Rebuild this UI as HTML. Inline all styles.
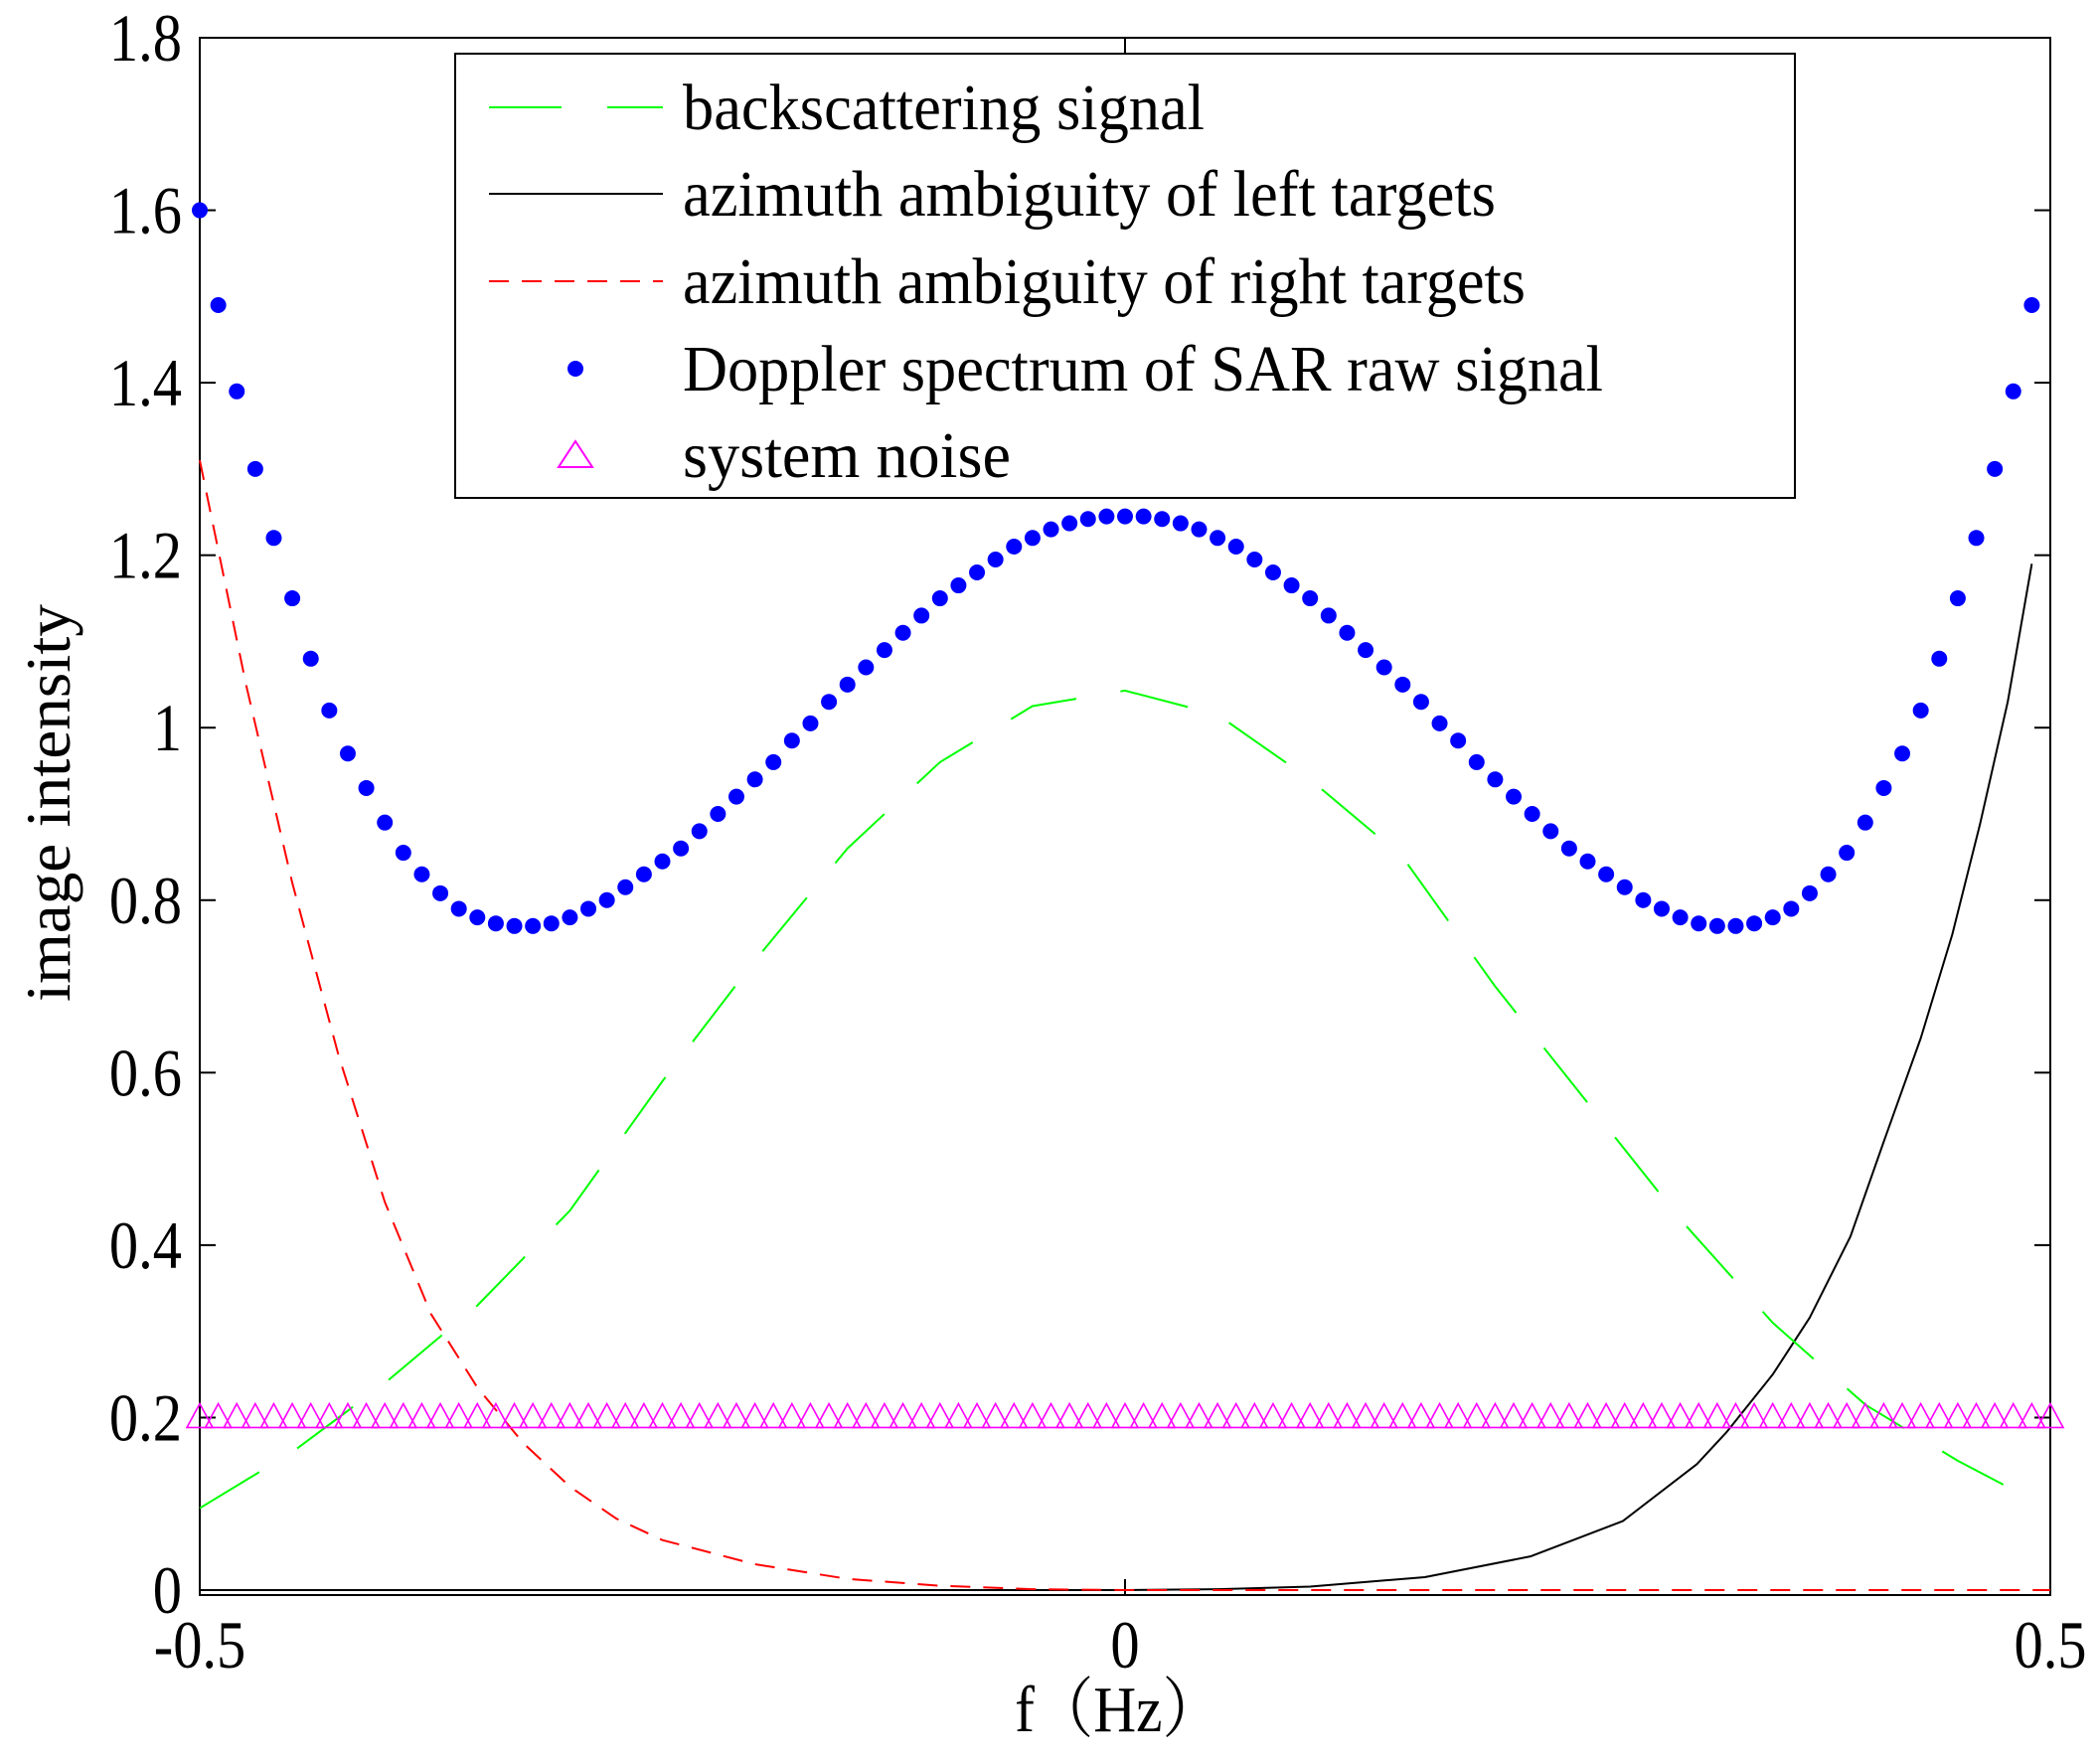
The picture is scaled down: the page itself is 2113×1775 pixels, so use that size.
<!DOCTYPE html>
<html><head><meta charset="utf-8"><style>body{margin:0;background:#fff}svg{display:block}text{font-family:"Liberation Serif",serif;fill:#000}</style></head>
<body>
<svg id="chart" width="2113" height="1775" viewBox="0 0 2113 1775">
<g id="plot"></g>
</svg>
<script>
const fDots=[-0.5,-0.49,-0.48,-0.47,-0.46,-0.45,-0.44,-0.43,-0.42,-0.41,-0.4,-0.39,-0.38,-0.37,-0.36,-0.35,-0.34,-0.33,-0.32,-0.31,-0.3,-0.29,-0.28,-0.27,-0.26,-0.25,-0.24,-0.23,-0.22,-0.21,-0.2,-0.19,-0.18,-0.17,-0.16,-0.15,-0.14,-0.13,-0.12,-0.11,-0.1,-0.09,-0.08,-0.07,-0.06,-0.05,-0.04,-0.03,-0.02,-0.01,0,0.01,0.02,0.03,0.04,0.05,0.06,0.07,0.08,0.09,0.1,0.11,0.12,0.13,0.14,0.15,0.16,0.17,0.18,0.19,0.2,0.21,0.22,0.23,0.24,0.25,0.26,0.27,0.28,0.29,0.3,0.31,0.32,0.33,0.34,0.35,0.36,0.37,0.38,0.39,0.4,0.41,0.42,0.43,0.44,0.45,0.46,0.47,0.48,0.49];
const dopplerVals=[1.60,1.49,1.39,1.30,1.22,1.15,1.08,1.02,0.97,0.93,0.89,0.855,0.83,0.808,0.79,0.78,0.773,0.77,0.77,0.773,0.78,0.79,0.80,0.815,0.83,0.845,0.86,0.88,0.90,0.92,0.94,0.96,0.985,1.005,1.03,1.05,1.07,1.09,1.11,1.13,1.15,1.165,1.18,1.195,1.21,1.22,1.23,1.237,1.242,1.245,1.245,1.245,1.242,1.237,1.23,1.22,1.21,1.195,1.18,1.165,1.15,1.13,1.11,1.09,1.07,1.05,1.03,1.005,0.985,0.96,0.94,0.92,0.90,0.88,0.86,0.845,0.83,0.815,0.80,0.79,0.78,0.773,0.77,0.77,0.773,0.78,0.79,0.808,0.83,0.855,0.89,0.93,0.97,1.02,1.08,1.15,1.22,1.30,1.39,1.49];
const fGreen=[-0.5,-0.45,-0.4,-0.35,-0.3,-0.25,-0.2,-0.15,-0.1,-0.05,0,0.05,0.1,0.15,0.2,0.25,0.3,0.35,0.4,0.45,0.49];
const greenVals=[0.095,0.16,0.24,0.33,0.44,0.59,0.73,0.86,0.96,1.025,1.043,1.015,0.94,0.85,0.70,0.565,0.43,0.31,0.215,0.15,0.105];
const fRed=[-0.5,-0.475,-0.45,-0.425,-0.4,-0.375,-0.35,-0.325,-0.3,-0.275,-0.25,-0.2,-0.15,-0.1,-0.05,0,0.5];
const redVals=[1.31,1.05,0.82,0.62,0.45,0.32,0.235,0.17,0.12,0.083,0.058,0.03,0.013,0.005,0.001,0,0];
const fBlack=[-0.5,0,0.05,0.1,0.162,0.219,0.269,0.309,0.325,0.35,0.37,0.392,0.41,0.43,0.447,0.462,0.477,0.49];
const blackVals=[0,0,0.001,0.004,0.015,0.039,0.08,0.146,0.183,0.25,0.316,0.41,0.52,0.64,0.76,0.888,1.03,1.19];
const noiseLevel=0.2;
const xTicks=[-0.5,0,0.5];
const yTicks=[0,0.2,0.4,0.6,0.8,1,1.2,1.4,1.6,1.8];

const NS="http://www.w3.org/2000/svg";
const X0=201,X1=2063,YT=38,YB=1605;
const xs=f=>X0+(f+0.5)*(X1-X0);
const ys=v=>1600-v*(1600-YT)/1.8;
const g=document.getElementById('plot');
function mk(tag,at,parent){const e=document.createElementNS(NS,tag);for(const k in at)e.setAttribute(k,at[k]);(parent||g).appendChild(e);return e;}
function poly(fa,va,stroke,dash,name){
  const e=mk('polyline',{points:fa.map((f,i)=>xs(f)+','+ys(va[i])).join(' '),fill:'none',stroke:stroke,'stroke-width':2,'stroke-dasharray':dash,'stroke-linejoin':'round'});
  
  
}
const box=mk('rect',{x:X0,y:YT,width:X1-X0,height:YB-YT,fill:'none',stroke:'#000','stroke-width':2});


yTicks.forEach(t=>{
  const y=ys(t);
  mk('line',{x1:X0,x2:X0+16,y1:y,y2:y,stroke:'#000','stroke-width':2});
  mk('line',{x1:X1-16,x2:X1,y1:y,y2:y,stroke:'#000','stroke-width':2});
  const tx=mk('text',{x:0,y:0,'font-size':68,'text-anchor':'end',transform:`translate(183,${y+23}) scale(0.86,1)`});
  tx.textContent=String(t);
  
  
});
xTicks.forEach(t=>{
  const x=xs(t);
  mk('line',{x1:x,x2:x,y1:YB,y2:YB-16,stroke:'#000','stroke-width':2});
  mk('line',{x1:x,x2:x,y1:YT,y2:YT+16,stroke:'#000','stroke-width':2});
  const tx=mk('text',{x:0,y:0,'font-size':68,'text-anchor':'middle',transform:`translate(${x},1678) scale(0.86,1)`});
  tx.textContent=String(t);
  
  
});
poly(fBlack,blackVals,'#000','none','left-ambiguity-line');
poly(fRed,redVals,'#ff0000','20 13','right-ambiguity-line');
poly(fGreen,greenVals,'#00ff00','70 45','backscattering-line');
fDots.forEach(f=>{
  const t=mk('path',{d:`M${xs(f)},${ys(noiseLevel)-14} l13,24 h-26 z`,fill:'none',stroke:'#ff00ff','stroke-width':1.6});
  
  
});
mk('path',{d:`M${xs(0.5)},${ys(noiseLevel)-14} l13,24 h-26 z`,fill:'none',stroke:'#ff00ff','stroke-width':1.6});
fDots.forEach((f,i)=>{
  const c=mk('circle',{cx:xs(f),cy:ys(dopplerVals[i]),r:8,fill:'#0000ff'});
  
  
});
const lg=mk('g',{});


mk('rect',{x:458,y:54,width:1348,height:447,fill:'#fff',stroke:'#000','stroke-width':2},lg);
const rows=[108,195,283,371,458];
const labels=['backscattering signal','azimuth ambiguity of left targets','azimuth ambiguity of right targets','Doppler spectrum of SAR raw signal','system noise'];
const lens=[525,818,848,926,330];
mk('line',{x1:492,x2:667,y1:rows[0],y2:rows[0],stroke:'#00ff00','stroke-width':2,'stroke-dasharray':'73 46'},lg);
mk('line',{x1:492,x2:667,y1:rows[1],y2:rows[1],stroke:'#000','stroke-width':2},lg);
mk('line',{x1:492,x2:667,y1:rows[2],y2:rows[2],stroke:'#ff0000','stroke-width':2,'stroke-dasharray':'20 13'},lg);
mk('circle',{cx:579,cy:rows[3],r:8,fill:'#0000ff'},lg);
mk('path',{d:`M579,${rows[4]-14} l17,26 h-34 z`,fill:'none',stroke:'#ff00ff','stroke-width':2},lg);
labels.forEach((l,i)=>{
  const t=mk('text',{x:687,y:rows[i]+22,'font-size':66,textLength:lens[i],lengthAdjust:'spacingAndGlyphs'},lg);
  t.textContent=l;
  
  
});
const yl=mk('text',{x:0,y:0,'font-size':64,'text-anchor':'middle',transform:'translate(70,808) rotate(-90)',textLength:400,lengthAdjust:'spacingAndGlyphs'});
yl.textContent='image intensity';


const xl=mk('text',{x:0,y:0,'font-size':66,'text-anchor':'middle',transform:'translate(1125,1742) scale(0.9,1)'});
xl.textContent='f（Hz）';
xl.setAttribute('style','font-family:"Liberation Serif","Noto Serif CJK SC",serif');


</script>
</body></html>
